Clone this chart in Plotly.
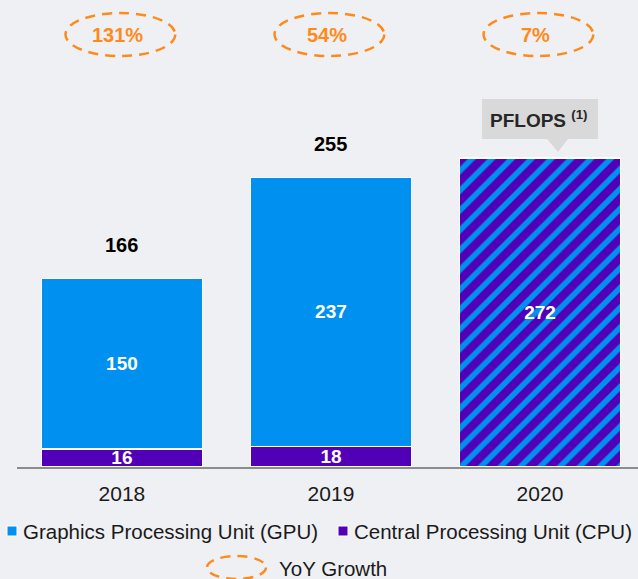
import plotly.graph_objects as go

# data
years = ["2018", "2019", "2020"]
split_years = ["2018", "2019"]
gpu = [150, 237]
cpu = [16, 18]
hatched_years = ["2020"]
hatched_total = [272]
yoy_growth = ["131%", "54%", "7%"]
legend_labels = ["Graphics Processing Unit (GPU)", "Central Processing Unit (CPU)"]

GPU_BLUE = "#0091f0"
CPU_PURPLE = "#5200b8"
ORANGE = "#ff8a1c"
BG = "#eff0f3"
FONT = "Liberation Sans, Arial, sans-serif"

W, H = 638, 579
ML, MB = 17, 112
PLOT_W, PLOT_H = W - ML, H - MB


def xp(px):
    # pixel x -> paper x
    return (px - ML) / PLOT_W


def yp(py):
    # pixel y -> paper y
    return (PLOT_H - py) / PLOT_H


def pos(labels):
    return [years.index(y) for y in labels]


bar_text = dict(textposition="inside", insidetextanchor="middle",
                constraintext="none", cliponaxis=False,
                textfont=dict(color="white", size=19, family=FONT, weight="bold"))

fig = go.Figure()
fig.add_trace(go.Bar(
    x=pos(split_years), y=cpu, name=legend_labels[1], text=cpu, width=0.77,
    marker=dict(color=CPU_PURPLE, line=dict(color="white", width=1.5)),
    showlegend=False, **bar_text,
))
fig.add_trace(go.Bar(
    x=pos(split_years), y=gpu, name=legend_labels[0], text=gpu, width=0.77,
    marker=dict(color=GPU_BLUE, line=dict(color="white", width=1.5)),
    showlegend=False, **bar_text,
))
fig.add_trace(go.Bar(
    x=pos(hatched_years), y=hatched_total, name="Total", text=hatched_total,
    width=0.77,
    marker=dict(color=CPU_PURPLE, line=dict(color="white", width=1.5),
                pattern=dict(shape="/", fillmode="replace", bgcolor=CPU_PURPLE,
                             fgcolor=GPU_BLUE, size=14, solidity=0.4)),
    showlegend=False, **bar_text,
))

# totals above the split bars
for x, g, c in zip(pos(split_years), gpu, cpu):
    fig.add_annotation(x=x, y=g + c, text=str(g + c), showarrow=False,
                       xanchor="center", yanchor="bottom", yshift=20,
                       font=dict(size=20, color="black", family=FONT, weight="bold"))

# YoY growth ellipses
for i, g in enumerate(yoy_growth):
    fig.add_shape(type="circle", xref="x", yref="paper",
                  x0=i - 0.27, x1=i + 0.255, y0=yp(56), y1=yp(13),
                  line=dict(color=ORANGE, width=2.5, dash="10px,7px"))
    fig.add_annotation(x=i - 0.02, xref="x", y=yp(35), yref="paper", text=g,
                       showarrow=False, xanchor="center", yanchor="middle",
                       font=dict(size=20, color=ORANGE, family=FONT, weight="bold"))

# PFLOPS callout above 2020
bx0, bx1, by0, by1 = xp(482), xp(598), yp(139), yp(99)
fig.add_shape(type="path", xref="paper", yref="paper", line_width=0,
              fillcolor="#d9d9d9",
              path=(f"M {bx0},{by0} L {xp(547)},{by0} L {xp(558)},{yp(152)} "
                    f"L {xp(568)},{by0} L {bx1},{by0} L {bx1},{by1} L {bx0},{by1} Z"))
fig.add_annotation(x=xp(539), y=yp(119), xref="paper", yref="paper",
                   text="PFLOPS <sup>(1)</sup>", showarrow=False,
                   xanchor="center", yanchor="middle",
                   font=dict(size=19, color="#262626", family=FONT, weight="bold"))

# custom legend
leg = [(legend_labels[0], GPU_BLUE, 7), (legend_labels[1], CPU_PURPLE, 338)]
for label, col, px in leg:
    fig.add_shape(type="rect", xref="paper", yref="paper",
                  x0=xp(px), x1=xp(px + 10), y0=yp(536), y1=yp(526),
                  fillcolor=col, line=dict(color="white", width=1))
    fig.add_annotation(x=xp(px + 14), y=yp(531), xref="paper", yref="paper",
                       text=label, showarrow=False, xanchor="left", yanchor="middle",
                       font=dict(size=20.5, color="#1a1a1a", family=FONT))
fig.add_shape(type="circle", xref="paper", yref="paper",
              x0=xp(207), x1=xp(266), y0=yp(579), y1=yp(556),
              line=dict(color=ORANGE, width=2.5, dash="10px,7px"))
fig.add_annotation(x=xp(277), y=yp(568), xref="paper", yref="paper",
                   text="YoY Growth", showarrow=False, xanchor="left", yanchor="middle",
                   font=dict(size=20.5, color="#1a1a1a", family=FONT))

fig.update_layout(
    width=W, height=H,
    margin=dict(l=ML, r=0, t=0, b=MB),
    paper_bgcolor=BG, plot_bgcolor=BG,
    barmode="stack",
    font=dict(family=FONT),
    xaxis=dict(range=[-0.502, 2.469], tickvals=list(range(len(years))),
               ticktext=years,
               showline=True, linecolor="#8c8c8c", linewidth=2,
               showgrid=False, zeroline=False, ticks="",
               ticklabelstandoff=7,
               tickfont=dict(size=21, color="#1a1a1a", family=FONT)),
    yaxis=dict(range=[0, 411], visible=False, showgrid=False, zeroline=False),
)

# drop the browser's default page margin so the figure fills the window
fig.write_html("out.html", config={"displayModeBar": False},
               post_script="document.body.style.margin='0';"
                           f"document.body.style.background='{BG}';")
